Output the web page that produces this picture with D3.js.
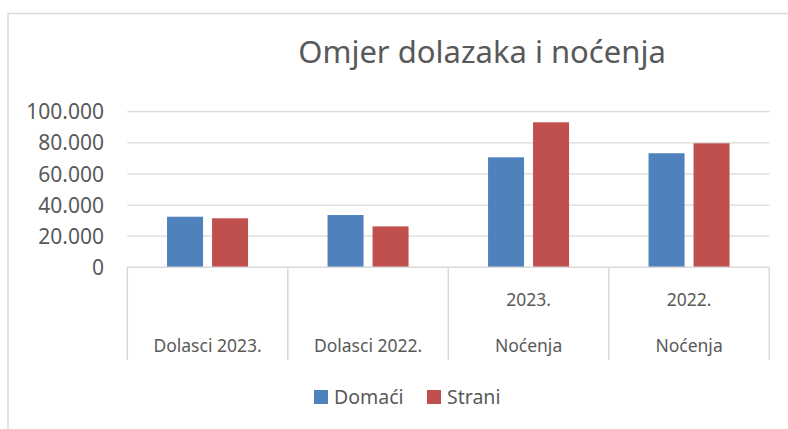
<!DOCTYPE html>
<html lang="hr">
<head>
<meta charset="UTF-8">
<title>Omjer dolazaka i noćenja</title>
<style>
  body { margin: 0; background: #fff; }
  svg { display: block; font-family: "Noto Sans", "Open Sans", sans-serif; }
  text { fill: #595959; }
</style>
</head>
<body>
<svg id="chart" width="788" height="429"></svg>
<script src="https://cdn.jsdelivr.net/npm/d3@7"></script>
<script>
// data
const categories = ["Dolasci 2023.", "Dolasci 2022.", "Noćenja 2023.", "Noćenja 2022."];
const labelTop = ["", "", "2023.", "2022."];
const labelBottom = ["Dolasci 2023.", "Dolasci 2022.", "Noćenja", "Noćenja"];
const series = ["Domaći", "Strani"];
const domaci = [32500, 33600, 70700, 73300];
const strani = [31500, 26300, 93200, 79700];
const yTicks = [0, 20000, 40000, 60000, 80000, 100000];
const colors = ["#4f81bd", "#c0504d"];

const svg = d3.select("#chart");
const plotL = 127.3, plotR = 769.3, plotT = 111.7, plotB = 267.3;

// chart frame (only top and left edges are in view)
svg.append("path")
  .attr("d", "M8,429 V13.5 H788")
  .attr("fill", "none")
  .attr("stroke", "#d9d9d9")
  .attr("stroke-width", 1.5);

svg.append("text")
  .attr("x", 482).attr("y", 63)
  .attr("text-anchor", "middle")
  .attr("font-size", 31)
  .text("Omjer dolazaka i noćenja");

const y = d3.scaleLinear().domain([0, 100000]).range([plotB, plotT]);
const x0 = d3.scaleBand().domain(categories).range([plotL, plotR]);
const x1 = d3.scaleBand().domain(series).range([0, x0.bandwidth()])
  .paddingInner(0.2).paddingOuter(0.883);

const fmt = d3.formatLocale({decimal: ",", thousands: ".", grouping: [3], currency: ["", "€"]}).format(",d");

// grid lines
svg.append("g").selectAll("line")
  .data(yTicks.filter(d => d > 0))
  .join("line")
  .attr("x1", plotL).attr("x2", plotR)
  .attr("y1", d => y(d)).attr("y2", d => y(d))
  .attr("stroke", "#d9d9d9").attr("stroke-width", 1.3);

// y labels
svg.append("g").selectAll("text")
  .data(yTicks)
  .join("text")
  .attr("x", 104).attr("y", d => y(d))
  .attr("dy", "0.36em")
  .attr("text-anchor", "end")
  .attr("font-size", 21)
  .text(d => fmt(d));

// bars
const rows = categories.map((c, i) => ({cat: c, vals: [domaci[i], strani[i]]}));
const groups = svg.append("g").selectAll("g")
  .data(rows)
  .join("g")
  .attr("transform", d => `translate(${x0(d.cat)},0)`);
groups.selectAll("rect")
  .data(d => d.vals.map((v, j) => ({s: series[j], v: v, j: j})))
  .join("rect")
  .attr("x", d => x1(d.s))
  .attr("width", x1.bandwidth())
  .attr("y", d => y(d.v))
  .attr("height", d => y(0) - y(d.v))
  .attr("fill", d => colors[d.j]);

// category axis
const axisG = svg.append("g");
axisG.append("line")
  .attr("x1", plotL).attr("x2", plotR)
  .attr("y1", plotB).attr("y2", plotB)
  .attr("stroke", "#d9d9d9").attr("stroke-width", 1.5);
const seps = categories.map(c => x0(c)).concat([plotR]);
axisG.selectAll("line.sep")
  .data(seps)
  .join("line")
  .attr("class", "sep")
  .attr("x1", d => d).attr("x2", d => d)
  .attr("y1", plotB).attr("y2", 360)
  .attr("stroke", "#d9d9d9").attr("stroke-width", 1.5);
axisG.selectAll("text.top")
  .data(categories)
  .join("text")
  .attr("class", "top")
  .attr("x", d => x0(d) + x0.bandwidth() / 2)
  .attr("y", 300).attr("dy", "0.36em")
  .attr("text-anchor", "middle")
  .attr("font-size", 17.5)
  .text((d, i) => labelTop[i]);
axisG.selectAll("text.bot")
  .data(categories)
  .join("text")
  .attr("class", "bot")
  .attr("x", d => x0(d) + x0.bandwidth() / 2)
  .attr("y", 346).attr("dy", "0.36em")
  .attr("text-anchor", "middle")
  .attr("font-size", 17.5)
  .text((d, i) => labelBottom[i]);

// legend
const legendX = [314, 427];
const leg = svg.append("g").selectAll("g")
  .data(series)
  .join("g")
  .attr("transform", (d, i) => `translate(${legendX[i]},390)`);
leg.append("rect")
  .attr("width", 14).attr("height", 14)
  .attr("fill", (d, i) => colors[i]);
leg.append("text")
  .attr("x", 20).attr("y", 7).attr("dy", "0.36em")
  .attr("font-size", 19.5)
  .text(d => d);
</script>
</body>
</html>
